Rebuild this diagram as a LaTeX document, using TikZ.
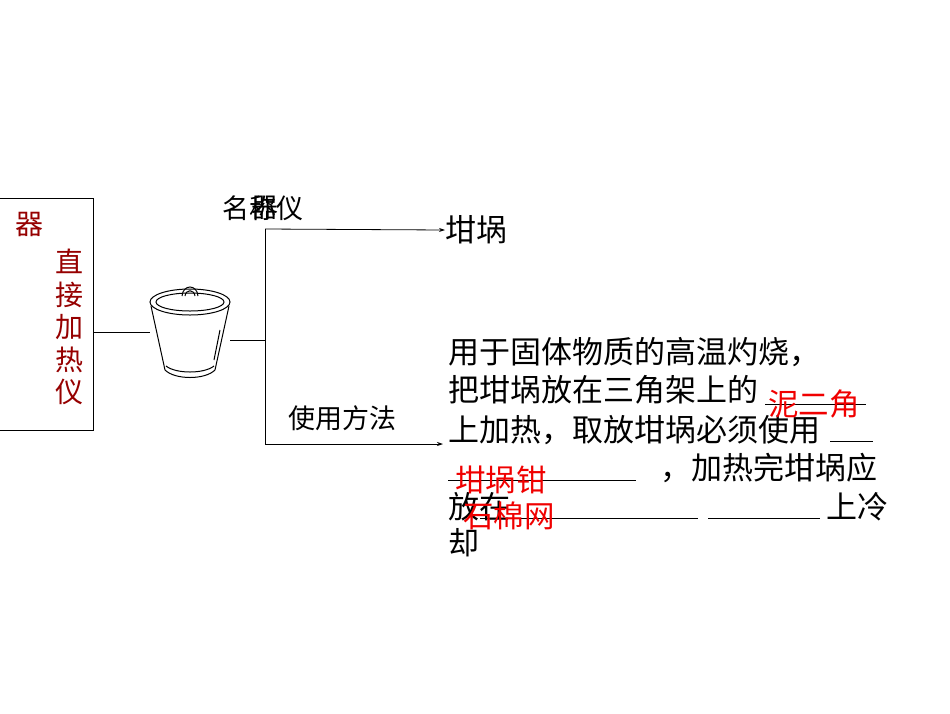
\documentclass[tikz,border=0pt]{standalone}
\usepackage{fontspec}
\setmainfont{Noto Sans CJK SC}
\usetikzlibrary{arrows.meta}
\definecolor{dred}{RGB}{150,0,0}
\definecolor{bred}{RGB}{240,0,0}
\begin{document}
\begin{tikzpicture}[x=1pt,y=-1pt,
  txt/.style={inner sep=0pt,anchor=west,font=\fontsize{31}{33}\selectfont},
  redt/.style={inner sep=0pt,anchor=west,text=bred,font=\fontsize{30.5}{32}\selectfont},
  ln/.style={line width=0.8pt},
  arr/.style={ln,-{Stealth[length=6pt,width=4pt]}}]
\useasboundingbox (0,0) rectangle (950,713);
\fill[white] (0,0) rectangle (950,713);
% left box
\node[draw,ln,minimum width=100pt,minimum height=232pt,inner sep=0pt] (box) at (43,314) {};
\node[inner sep=0pt,text=dred,font=\fontsize{28}{30}\selectfont] (qi) at (30,224) {器};
\node[inner sep=0pt,text=dred,align=center,font=\fontsize{28}{32.5}\selectfont] (zj) at (69,327) {直\\接\\加\\热\\仪};
% crucible
\coordinate (cl) at (150,332);
\coordinate (cr) at (230,340);
\draw[ln] (box.east |- cl) -- (cl);
\begin{scope}[line width=1pt]
\draw (190,302) ellipse (40pt and 13pt);
\draw (190,302) ellipse (34pt and 9pt);
\draw (182,296) .. controls (183,284) and (197,284) .. (198,296);
\draw (185,296) .. controls (186,289) and (194,289) .. (195,296);
\draw (151,306) -- (165,370);
\draw (229,306) -- (215,370);
\draw (165,370) .. controls (175,380) and (205,380) .. (215,370);
\draw (166,366) .. controls (176,374) and (204,374) .. (214,366);
\draw (220,330) -- (214,360);
\end{scope}
% branch
\coordinate (j) at (265,340);
\coordinate (jt) at (265,229);
\coordinate (jb) at (265,444);
\node[txt] (name) at (445,230) {坩埚};
\node[txt] (use1) at (448,352) {用于固体物质的高温灼烧，};
\draw[ln] (cr) -- (j);
\draw[ln] (jt) -- (jb);
\draw[arr] (jt) -- (name.west);
\draw[arr] (jb) -- (443,444);
\node[txt,font=\fontsize{27}{29}\selectfont] (lbl1) at (222,208) {名称仪};
\node[txt,font=\fontsize{27}{29}\selectfont] (lbl1b) at (251,208) {器};
\node[txt,font=\fontsize{27}{29}\selectfont] (lbl2) at (288,418) {使用方法};
% text block
\node[txt] (use2) at (448,390) {把坩埚放在三角架上的};
\node[txt] (use3) at (448,430) {上加热，取放坩埚必须使用};
\node[txt] (use4) at (660,468) {，加热完坩埚应};
\node[txt] (use5) at (448,507) {放在};
\node[txt] (use5b) at (826,507) {上冷};
\node[txt] (use6) at (448,543) {却};
\draw[ln] (765,404) -- (866,404);
\draw[ln] (830,441) -- (873,441);
\draw[ln] (448,480) -- (636,480);
\draw[ln] (480,518) -- (698,518);
\draw[ln] (708,518) -- (820,518);
\node[redt] (a1) at (768,404) {泥二角};
\node[redt] (a2) at (455,480) {坩埚钳};
\node[redt] (a3) at (463,516) {石棉网};
\end{tikzpicture}
\end{document}
